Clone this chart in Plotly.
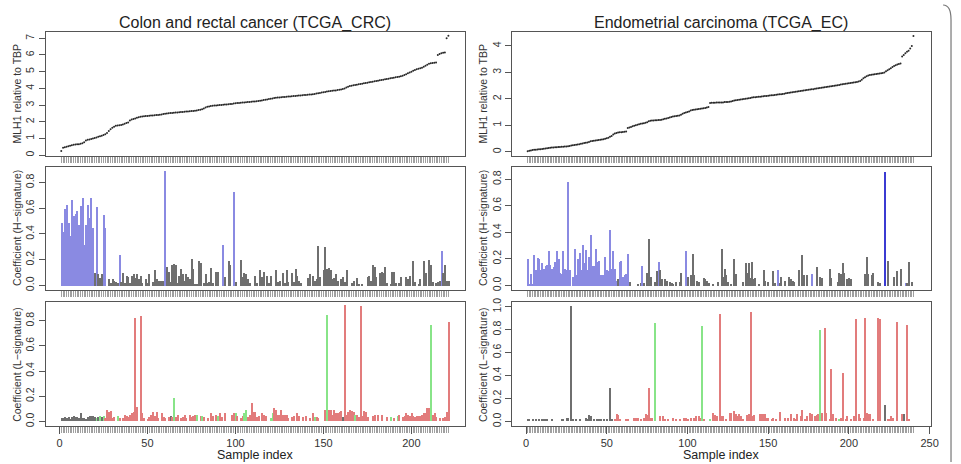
import plotly.graph_objects as go

W, H = 961, 464

# ---------------- data ----------------
crc_mlh1 = [
    0.25,
    0.45, 0.48, 0.50, 0.53,
    0.56, 0.60, 0.62, 0.64, 0.65,
    0.66, 0.68, 0.72, 0.78,
    0.88, 0.92, 0.94, 0.97, 1.00, 1.03,
    1.06, 1.10, 1.13, 1.17, 1.21, 1.26, 1.33,
    1.45, 1.55, 1.64, 1.71, 1.76,
    1.78, 1.79, 1.80, 1.84, 1.88, 1.92,
    1.96, 2.08, 2.14, 2.17, 2.20, 2.24,
    2.27, 2.30, 2.32, 2.33, 2.34, 2.35, 2.36, 2.37, 2.38, 2.39, 2.40, 2.41, 2.42, 2.44, 2.46,
    2.48, 2.50, 2.51, 2.52, 2.53, 2.54, 2.55, 2.56, 2.57, 2.58, 2.59, 2.60, 2.61, 2.62, 2.63, 2.64, 2.65, 2.66, 2.68, 2.70,
    2.72, 2.75, 2.80, 2.86, 2.90, 2.92,
    2.94, 2.96, 2.97, 2.98, 2.99, 3.00, 3.01, 3.02, 3.03, 3.04, 3.05, 3.06, 3.07, 3.09, 3.11,
    3.12, 3.13, 3.14, 3.15, 3.16, 3.17, 3.18, 3.19, 3.20, 3.21, 3.22, 3.23, 3.24, 3.26, 3.28,
    3.30, 3.32, 3.34, 3.36, 3.38, 3.40, 3.42, 3.44, 3.45, 3.46, 3.47, 3.48, 3.49, 3.50, 3.51,
    3.52, 3.53, 3.54, 3.55, 3.56, 3.57, 3.58, 3.59, 3.60, 3.61, 3.62, 3.63, 3.64, 3.65, 3.67, 3.69, 3.71, 3.73, 3.75, 3.77,
    3.79, 3.81, 3.83, 3.85, 3.86, 3.87, 3.88, 3.90, 3.92, 3.94, 3.97, 4.00, 4.05, 4.10, 4.14,
    4.16, 4.18, 4.20, 4.22, 4.24, 4.26, 4.28, 4.30, 4.32, 4.34, 4.36, 4.38, 4.40, 4.42, 4.44, 4.46, 4.48, 4.50, 4.52, 4.54,
    4.56, 4.58, 4.60, 4.62, 4.64, 4.66, 4.68, 4.70, 4.73, 4.76, 4.80, 4.85, 4.90, 4.95, 5.00,
    5.05, 5.10, 5.14, 5.17, 5.20, 5.24, 5.30, 5.36, 5.42, 5.47, 5.50, 5.52, 5.53, 5.55,
    6.00, 6.06, 6.10, 6.13, 6.15, 7.00, 7.15,
]

crc_h = [
    0.49, 0.42, 0.60, 0.63, 0.49, 0.39, 0.67, 0.54, 0.56, 0.58,
    0.47, 0.62, 0.68, 0.32, 0.47, 0.63, 0.53, 0.68, 0.45, 0.10,
    0.61, 0.09, 0.06, 0.09, 0.55, 0.45, 0.00, 0.05, 0.02, 0.05,
    0.04, 0.03, 0.02, 0.24, 0.03, 0.10, 0.02, 0.08, 0.07, 0.02,
    0.08, 0.09, 0.06, 0.09, 0.05, 0.08, 0.02, 0.00, 0.05, 0.02,
    0.09, 0.00, 0.03, 0.12, 0.05, 0.04, 0.04, 0.04, 0.04, 0.89,
    0.15, 0.11, 0.03, 0.16, 0.17, 0.16, 0.02, 0.08, 0.13, 0.09,
    0.04, 0.09, 0.07, 0.05, 0.21, 0.13, 0.01, 0.01, 0.19, 0.18,
    0.00, 0.02, 0.09, 0.02, 0.03, 0.14, 0.02, 0.00, 0.11, 0.11,
    0.00, 0.00, 0.32, 0.07, 0.00, 0.19, 0.16, 0.00, 0.73, 0.03,
    0.00, 0.00, 0.20, 0.07, 0.10, 0.09, 0.05, 0.02, 0.00, 0.00,
    0.08, 0.02, 0.00, 0.12, 0.07, 0.11, 0.00, 0.08, 0.02, 0.08,
    0.00, 0.00, 0.12, 0.03, 0.04, 0.00, 0.10, 0.02, 0.12, 0.03,
    0.00, 0.10, 0.03, 0.13, 0.08, 0.04, 0.02, 0.00, 0.00, 0.00,
    0.06, 0.09, 0.00, 0.08, 0.04, 0.05, 0.31, 0.07, 0.00, 0.12,
    0.30, 0.13, 0.14, 0.12, 0.05, 0.06, 0.09, 0.04, 0.00, 0.05,
    0.07, 0.03, 0.12, 0.00, 0.00, 0.02, 0.04, 0.00, 0.06, 0.01,
    0.00, 0.01, 0.00, 0.00, 0.07, 0.08, 0.04, 0.16, 0.15, 0.07,
    0.00, 0.10, 0.11, 0.10, 0.15, 0.02, 0.00, 0.01, 0.11, 0.11,
    0.02, 0.00, 0.02, 0.07, 0.00, 0.00, 0.07, 0.05, 0.08, 0.00,
    0.19, 0.03, 0.00, 0.01, 0.05, 0.00, 0.19, 0.10, 0.00, 0.20,
    0.16, 0.03, 0.00, 0.02, 0.03, 0.04, 0.27, 0.10, 0.16, 0.04, 0.04,
]

crc_l = [
    0.02, 0.02, 0.03, 0.02, 0.03, 0.01, 0.03, 0.04, 0.03, 0.03,
    0.02, 0.06, 0.02, 0.02, 0.01, 0.03, 0.04, 0.04, 0.04, 0.03,
    0.02, 0.03, 0.04, 0.03, 0.04, 0.02, 0.09, 0.07, 0.08, 0.02,
    0.03, 0.00, 0.04, 0.02, 0.00, 0.02, 0.05, 0.04, 0.03, 0.05,
    0.06, 0.07, 0.82, 0.11, 0.00, 0.83, 0.06, 0.02, 0.00, 0.01,
    0.03, 0.05, 0.07, 0.04, 0.07, 0.02, 0.00, 0.06, 0.03, 0.02,
    0.00, 0.03, 0.04, 0.03, 0.18, 0.03, 0.05, 0.00, 0.02, 0.03,
    0.05, 0.02, 0.00, 0.05, 0.03, 0.04, 0.05, 0.05, 0.00, 0.04,
    0.04, 0.03, 0.00, 0.02, 0.00, 0.06, 0.04, 0.00, 0.05, 0.04,
    0.06, 0.03, 0.00, 0.06, 0.00, 0.00, 0.00, 0.05, 0.06, 0.06,
    0.04, 0.00, 0.02, 0.04, 0.06, 0.09, 0.03, 0.05, 0.14, 0.07,
    0.07, 0.03, 0.04, 0.00, 0.06, 0.05, 0.04, 0.00, 0.00, 0.02,
    0.06, 0.10, 0.09, 0.05, 0.05, 0.09, 0.05, 0.05, 0.05, 0.02,
    0.00, 0.03, 0.04, 0.00, 0.06, 0.04, 0.00, 0.03, 0.00, 0.04,
    0.00, 0.02, 0.00, 0.06, 0.03, 0.03, 0.02, 0.00, 0.00, 0.00,
    0.09, 0.84, 0.09, 0.09, 0.05, 0.09, 0.06, 0.06, 0.07, 0.08,
    0.03, 0.92, 0.05, 0.07, 0.09, 0.08, 0.07, 0.05, 0.05, 0.03,
    0.91, 0.04, 0.08, 0.07, 0.03, 0.00, 0.00, 0.04, 0.05, 0.00,
    0.05, 0.00, 0.05, 0.00, 0.00, 0.03, 0.00, 0.03, 0.00, 0.02,
    0.00, 0.04, 0.05, 0.00, 0.03, 0.04, 0.06, 0.05, 0.04, 0.06,
    0.04, 0.03, 0.04, 0.04, 0.04, 0.05, 0.06, 0.06, 0.10, 0.10,
    0.76, 0.05, 0.06, 0.03, 0.00, 0.02, 0.00, 0.02, 0.03, 0.07, 0.79,
]

# sample groups (1-based sample indices)
crc_h_blue = [1, 2, 3, 4, 5, 6, 7, 8, 9, 10, 11, 12, 13, 14, 15, 16, 17, 18, 19,
              21, 25, 26, 34, 60, 93, 99, 217]
crc_l_gray = [1, 2, 3, 4, 5, 6, 7, 8, 9, 10, 11, 12, 13, 14, 15, 16, 17, 18, 19, 20,
              22, 24, 63, 161]
crc_l_green = [21, 23, 25, 33, 65, 78, 81, 90, 100, 105, 106, 120, 121, 145, 152,
               168, 188, 192, 211]

ec_mlh1 = [
    0.03, 0.05, 0.06, 0.07, 0.08, 0.08, 0.09, 0.10, 0.10, 0.11,
    0.12, 0.13, 0.14, 0.15, 0.16, 0.17, 0.17, 0.18, 0.18, 0.19,
    0.19, 0.20, 0.20, 0.21, 0.21, 0.22, 0.23, 0.24, 0.25, 0.26,
    0.27, 0.28, 0.29, 0.31, 0.32, 0.34, 0.35, 0.36, 0.38, 0.40,
    0.41, 0.42, 0.43, 0.44, 0.45, 0.46, 0.47, 0.48, 0.50, 0.52,
    0.54, 0.57, 0.60, 0.66, 0.70, 0.72, 0.73, 0.74, 0.74, 0.75,
    0.76, 0.77, 0.90, 0.92, 0.94, 0.97, 0.99, 1.01, 1.03, 1.05,
    1.06, 1.07, 1.08, 1.10, 1.12, 1.16, 1.18, 1.19, 1.19, 1.20,
    1.20, 1.21, 1.21, 1.22, 1.23, 1.25, 1.26, 1.28, 1.30, 1.32,
    1.34, 1.35, 1.36, 1.37, 1.38, 1.40, 1.44, 1.47, 1.49, 1.51,
    1.53, 1.56, 1.58, 1.59, 1.60, 1.61, 1.62, 1.63, 1.64, 1.65,
    1.66, 1.68, 1.70, 1.85, 1.86, 1.86, 1.86, 1.87, 1.87, 1.87,
    1.87, 1.87, 1.88, 1.88, 1.88, 1.89, 1.90, 1.92, 1.94, 1.95,
    1.96, 1.97, 1.98, 1.99, 2.00, 2.01, 2.02, 2.03, 2.04, 2.05,
    2.06, 2.06, 2.07, 2.08, 2.08, 2.09, 2.10, 2.11, 2.11, 2.12,
    2.13, 2.14, 2.14, 2.15, 2.16, 2.17, 2.18, 2.18, 2.19, 2.20,
    2.21, 2.22, 2.23, 2.24, 2.25, 2.26, 2.27, 2.28, 2.29, 2.30,
    2.31, 2.32, 2.33, 2.34, 2.35, 2.36, 2.37, 2.37, 2.38, 2.39,
    2.40, 2.41, 2.42, 2.43, 2.44, 2.45, 2.46, 2.47, 2.48, 2.49,
    2.50, 2.51, 2.52, 2.53, 2.54, 2.55, 2.56, 2.57, 2.58, 2.59,
    2.60, 2.61, 2.62, 2.63, 2.64, 2.66, 2.68, 2.72, 2.78, 2.82,
    2.86, 2.88, 2.90, 2.91, 2.92, 2.93, 2.94, 2.95, 2.96, 2.97,
    2.98, 3.00, 3.04, 3.08, 3.12, 3.16, 3.20, 3.24, 3.27, 3.30,
    3.32, 3.34, 3.60, 3.66, 3.72, 3.78, 3.82, 3.90, 4.00, 4.37,
]

ec_h = [
    0.20, 0.01, 0.09, 0.01, 0.23, 0.12, 0.21, 0.20, 0.12, 0.17,
    0.13, 0.15, 0.16, 0.26, 0.16, 0.13, 0.14, 0.18, 0.26, 0.20,
    0.10, 0.09, 0.26, 0.13, 0.12, 0.78, 0.12, 0.00, 0.07, 0.28,
    0.08, 0.20, 0.25, 0.12, 0.31, 0.17, 0.27, 0.12, 0.22, 0.38,
    0.15, 0.15, 0.28, 0.18, 0.19, 0.08, 0.08, 0.08, 0.22, 0.12,
    0.11, 0.42, 0.13, 0.26, 0.13, 0.04, 0.05, 0.18, 0.19, 0.07,
    0.08, 0.09, 0.24, 0.03, 0.00, 0.00, 0.00, 0.00, 0.01, 0.00,
    0.02, 0.15, 0.02, 0.00, 0.10, 0.35, 0.07, 0.00, 0.00, 0.03,
    0.11, 0.18, 0.12, 0.05, 0.00, 0.05, 0.04, 0.00, 0.03, 0.02,
    0.01, 0.00, 0.03, 0.00, 0.03, 0.10, 0.00, 0.00, 0.26, 0.07,
    0.00, 0.08, 0.24, 0.08, 0.00, 0.04, 0.03, 0.00, 0.00, 0.06,
    0.05, 0.04, 0.02, 0.00, 0.00, 0.01, 0.00, 0.00, 0.03, 0.00,
    0.28, 0.07, 0.13, 0.08, 0.03, 0.00, 0.01, 0.00, 0.20, 0.09,
    0.00, 0.00, 0.00, 0.03, 0.00, 0.17, 0.10, 0.17, 0.06, 0.18,
    0.05, 0.06, 0.00, 0.01, 0.00, 0.00, 0.12, 0.04, 0.00, 0.03,
    0.00, 0.00, 0.11, 0.02, 0.00, 0.12, 0.02, 0.07, 0.00, 0.04,
    0.00, 0.00, 0.07, 0.05, 0.04, 0.03, 0.00, 0.00, 0.12, 0.00,
    0.23, 0.08, 0.00, 0.08, 0.00, 0.00, 0.09, 0.00, 0.00, 0.14,
    0.00, 0.07, 0.06, 0.00, 0.00, 0.00, 0.00, 0.13, 0.06, 0.00,
    0.00, 0.00, 0.03, 0.10, 0.09, 0.17, 0.10, 0.00, 0.05, 0.06,
    0.05, 0.00, 0.00, 0.00, 0.00, 0.00, 0.00, 0.00, 0.00, 0.09,
    0.22, 0.09, 0.00, 0.08, 0.10, 0.00, 0.00, 0.03, 0.02, 0.00,
    0.00, 0.86, 0.00, 0.19, 0.00, 0.00, 0.00, 0.07, 0.00, 0.11,
    0.00, 0.13, 0.00, 0.00, 0.02, 0.02, 0.18, 0.00, 0.03, 0.00,
]

ec_l = [
    0.01, 0.01, 0.00, 0.01, 0.00, 0.01, 0.00, 0.01, 0.00, 0.01,
    0.01, 0.01, 0.01, 0.00, 0.00, 0.02, 0.00, 0.00, 0.00, 0.00,
    0.00, 0.01, 0.01, 0.00, 0.03, 0.03, 0.00, 1.00, 0.01, 0.00,
    0.01, 0.00, 0.02, 0.00, 0.00, 0.00, 0.03, 0.02, 0.05, 0.04,
    0.00, 0.01, 0.00, 0.02, 0.01, 0.02, 0.00, 0.01, 0.00, 0.01,
    0.00, 0.29, 0.01, 0.00, 0.02, 0.06, 0.05, 0.01, 0.00, 0.00,
    0.00, 0.01, 0.01, 0.00, 0.00, 0.00, 0.03, 0.03, 0.03, 0.00,
    0.01, 0.00, 0.03, 0.06, 0.05, 0.29, 0.03, 0.03, 0.00, 0.85,
    0.00, 0.00, 0.04, 0.00, 0.04, 0.02, 0.00, 0.02, 0.00, 0.00,
    0.03, 0.00, 0.02, 0.00, 0.01, 0.00, 0.00, 0.03, 0.03, 0.02,
    0.00, 0.03, 0.00, 0.03, 0.04, 0.00, 0.04, 0.03, 0.83, 0.01,
    0.00, 0.00, 0.00, 0.02, 0.00, 0.07, 0.05, 0.04, 0.00, 0.93,
    0.04, 0.04, 0.00, 0.02, 0.00, 0.07, 0.07, 0.00, 0.09, 0.06,
    0.04, 0.06, 0.04, 0.02, 0.00, 0.00, 0.05, 0.06, 0.95, 0.04,
    0.05, 0.00, 0.00, 0.00, 0.06, 0.06, 0.06, 0.06, 0.03, 0.03,
    0.00, 0.02, 0.03, 0.00, 0.01, 0.00, 0.08, 0.00, 0.00, 0.03,
    0.00, 0.03, 0.00, 0.06, 0.00, 0.03, 0.01, 0.06, 0.00, 0.04,
    0.10, 0.00, 0.02, 0.04, 0.00, 0.07, 0.06, 0.00, 0.04, 0.05,
    0.06, 0.79, 0.07, 0.00, 0.81, 0.07, 0.00, 0.02, 0.45, 0.06,
    0.00, 0.03, 0.00, 0.02, 0.03, 0.42, 0.00, 0.02, 0.04, 0.00,
    0.02, 0.00, 0.04, 0.89, 0.00, 0.06, 0.03, 0.00, 0.03, 0.90,
    0.07, 0.06, 0.06, 0.00, 0.02, 0.00, 0.00, 0.90, 0.89, 0.00,
    0.00, 0.14, 0.00, 0.01, 0.02, 0.04, 0.03, 0.00, 0.00, 0.86,
    0.00, 0.00, 0.06, 0.06, 0.00, 0.84, 0.02, 0.00, 0.00, 0.00,
]

ec_h_blue = list(range(1, 57)) + [58, 59, 60, 61, 62, 63, 72, 82, 99, 156, 177, 235]
ec_h_dark = [222]
ec_l_gray = list(range(1, 54)) + [222, 234]
ec_l_green = [80, 109, 114, 182, 194]

titles = ["Colon and rectal cancer (TCGA_CRC)", "Endometrial carcinoma (TCGA_EC)"]
row_titles = ["MLH1 relative to TBP", "Coefficient (H\u2212signature)", "Coefficient (L\u2212signature)"]
xlab = "Sample index"
crc_xticks = [0, 50, 100, 150, 200]
ec_xticks = [0, 50, 100, 150, 200, 250]

# ---------------- style ----------------
GRAY = "#6f6f6f"
BLUE = "#8a8ae2"
DARKBLUE = "#3b3bd2"
RED = "#e27c7c"
GREEN = "#88e488"
BLACK = "#2a2a2a"
FRAME = "#555555"
HATCH = "#a0a0a0"
FONT = "Liberation Sans, Arial, Helvetica, sans-serif"


def colour_list(n, default, groups):
    c = [default] * n
    for idx, col in groups:
        for i in idx:
            c[i - 1] = col
    return c


crc_x = list(range(1, len(crc_mlh1) + 1))
ec_x = list(range(1, len(ec_mlh1) + 1))

# layout geometry (pixels)
col_px = [(46, 469), (516, 939)]
row_px = [(27, 153), (164, 289), (302, 427)]
xranges = [[-7.9, 230.5], [-8.9, 251.0]]
yranges = [
    [[-0.03, 7.40], [-0.14, 4.54]],
    [[-0.033, 0.924], [-0.032, 0.896]],
    [[-0.033, 0.945], [-0.036, 1.037]],
]


def xd(c):
    return [col_px[c][0] / W, col_px[c][1] / W]


def yd(r):
    return [1 - row_px[r][1] / H, 1 - row_px[r][0] / H]


fig = go.Figure()

panels = [
    (0, 0, "pts", crc_x, crc_mlh1, None),
    (0, 1, "pts", ec_x, ec_mlh1, None),
    (1, 0, "bar", crc_x, crc_h, colour_list(len(crc_h), GRAY, [(crc_h_blue, BLUE)])),
    (1, 1, "bar", ec_x, ec_h, colour_list(len(ec_h), GRAY, [(ec_h_blue, BLUE), (ec_h_dark, DARKBLUE)])),
    (2, 0, "bar", crc_x, crc_l, colour_list(len(crc_l), RED, [(crc_l_gray, GRAY), (crc_l_green, GREEN)])),
    (2, 1, "bar", ec_x, ec_l, colour_list(len(ec_l), RED, [(ec_l_gray, GRAY), (ec_l_green, GREEN)])),
]

layout = dict(
    width=W, height=H, margin=dict(l=0, r=0, t=0, b=0),
    paper_bgcolor="white", plot_bgcolor="white", showlegend=False,
    font=dict(family=FONT, color="#222222", size=11),
    bargap=0, barmode="overlay",
)

annotations = []
k = 0
for (r, c, kind, xs, ys, cols) in panels:
    k += 1
    xa, ya = f"x{k}", f"y{k}"
    if kind == "pts":
        fig.add_trace(go.Scatter(x=xs, y=ys, mode="markers", xaxis=xa, yaxis=ya,
                                 marker=dict(size=2.0, color=BLACK, line=dict(width=0)),
                                 hoverinfo="skip"))
    else:
        fig.add_trace(go.Bar(x=xs, y=ys, xaxis=xa, yaxis=ya, width=0.75,
                             marker=dict(color=cols, line=dict(width=0)),
                             hoverinfo="skip"))
    yr = yranges[r][c]
    if r == 0:
        yt = list(range(0, int(yr[1]) + 1))
        yfmt = "d"
    else:
        top = 1.0 if (r == 2 and c == 1) else 0.8
        yt = [round(v * 0.2, 1) for v in range(0, int(round(top / 0.2)) + 1)]
        yfmt = ".1f"
    layout[f"xaxis{k}"] = dict(
        domain=xd(c), anchor=ya, range=xranges[c],
        tickmode="array", tickvals=xs, showticklabels=False,
        ticks="outside", ticklen=6, tickwidth=1, tickcolor=HATCH,
        showline=True, mirror=True, linecolor=FRAME, linewidth=1,
        showgrid=False, zeroline=False, fixedrange=True,
    )
    layout[f"yaxis{k}"] = dict(
        domain=yd(r), anchor=xa, range=yr,
        tickmode="array", tickvals=yt, tickformat=yfmt, tickangle=-90,
        ticks="outside", ticklen=6, tickwidth=1, tickcolor=FRAME,
        tickfont=dict(size=10.5, color="#333333", family=FONT),
        showline=True, mirror=True, linecolor=FRAME, linewidth=1,
        showgrid=False, zeroline=False, fixedrange=True,
    )
    annotations.append(dict(
        x=(col_px[c][0] - 29) / W, y=1 - (row_px[r][0] + row_px[r][1]) / 2 / H,
        xref="paper", yref="paper", text=row_titles[r], textangle=-90,
        showarrow=False, xanchor="center", yanchor="middle",
        font=dict(size=10.5, color="#333333", family=FONT)))

# labelled index axes for the bottom row
for c, base, ticks_ in [(0, 5, crc_xticks), (1, 6, ec_xticks)]:
    k += 1
    fig.add_trace(go.Scatter(x=[], y=[], xaxis=f"x{k}", yaxis=f"y{base}",
                             mode="markers", hoverinfo="skip"))
    layout[f"xaxis{k}"] = dict(
        overlaying=f"x{base}", anchor=f"y{base}", side="bottom", range=xranges[c],
        tickmode="array", tickvals=ticks_, ticks="outside", ticklen=7,
        tickwidth=1, tickcolor=FRAME,
        tickfont=dict(size=11, color="#333333", family=FONT),
        showline=False, showgrid=False, zeroline=False, fixedrange=True,
    )
    annotations.append(dict(
        x=(col_px[c][0] + col_px[c][1]) / 2 / W, y=1 - 457 / H,
        xref="paper", yref="paper", text=xlab, showarrow=False,
        xanchor="center", yanchor="middle",
        font=dict(size=12.5, color="#222222", family=FONT)))

for c in range(2):
    annotations.append(dict(
        x=(col_px[c][0] + col_px[c][1]) / 2 / W, y=1 - 18 / H,
        xref="paper", yref="paper", text=titles[c], showarrow=False,
        xanchor="center", yanchor="middle",
        font=dict(size=16, color="#222222", family=FONT)))

layout["annotations"] = annotations
layout["shapes"] = [dict(
    type="path", xref="paper", yref="paper",
    path=f"M {951 / W},1 Q {959 / W},1 {959 / W},{1 - 15 / H} L {959 / W},0",
    line=dict(color="#777777", width=1.2))]

fig.update_layout(**layout)
fig.write_html("out.html")
